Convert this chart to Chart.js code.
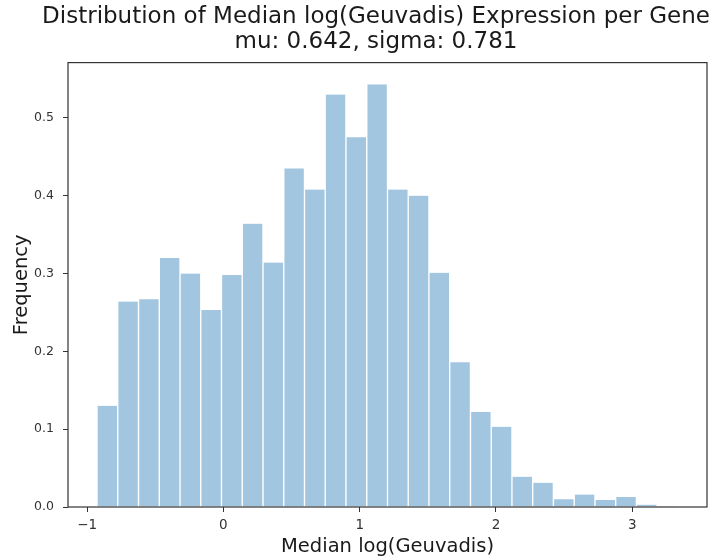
<!DOCTYPE html>
<html>
<head>
<meta charset="utf-8">
<script src="https://cdn.jsdelivr.net/npm/chart.js@4/dist/chart.umd.min.js"></script>
<style>
  html, body { margin: 0; padding: 0; background: #ffffff; }
  #wrap { width: 722px; height: 560px; }
</style>
</head>
<body>
<div id="wrap"><canvas id="c" width="722" height="560"></canvas></div>
<script>
// Histogram bin edges
const binEdges = [-0.927, -0.775, -0.623, -0.470, -0.318, -0.166, -0.014, 0.138, 0.291, 0.443,
                  0.595, 0.747, 0.899, 1.052, 1.204, 1.356, 1.508, 1.660, 1.813, 1.965,
                  2.117, 2.269, 2.421, 2.574, 2.726, 2.878, 3.030, 3.182, 3.335];
// Density (Frequency) per bin
const frequency = [0.130, 0.264, 0.267, 0.320, 0.300, 0.253, 0.298, 0.364, 0.314, 0.435,
                   0.408, 0.530, 0.475, 0.543, 0.408, 0.400, 0.301, 0.186, 0.122, 0.103,
                   0.039, 0.031, 0.010, 0.016, 0.009, 0.013, 0.003, 0.001];
const xTicks = [-1, 0, 1, 2, 3];
const yTicks = [0.0, 0.1, 0.2, 0.3, 0.4, 0.5];
const titleLines = ['Distribution of Median log(Geuvadis) Expression per Gene', 'mu: 0.642, sigma: 0.781'];
const xLabel = 'Median log(Geuvadis)';
const yLabel = 'Frequency';

const points = frequency.map((f, i) => ({ x: (binEdges[i] + binEdges[i + 1]) / 2, y: f }));

const frame = {
  id: 'frame',
  afterDatasetsDraw(chart) {
    const a = chart.chartArea, ctx = chart.ctx;
    ctx.save();
    ctx.strokeStyle = '#333333';
    ctx.lineWidth = 1.2;
    ctx.strokeRect(a.left, a.top, a.right - a.left, a.bottom - a.top);
    ctx.restore();
  }
};

const FONT = "'DejaVu Sans', sans-serif";

new Chart(document.getElementById('c'), {
  type: 'bar',
  data: {
    datasets: [{
      data: points,
      xAxisID: 'x',
      yAxisID: 'y',
      backgroundColor: '#a2c6e0',
      borderColor: '#ffffff',
      borderWidth: { left: 1, right: 1, top: 0, bottom: 0 },
      barPercentage: 1.0,
      categoryPercentage: 1.0
    }]
  },
  plugins: [frame],
  options: {
    responsive: false,
    animation: false,
    devicePixelRatio: 1,
    // left padding shifts the full-width title to sit centred over the plot
    layout: { padding: { left: 30, right: 0, top: 0, bottom: 0 } },
    plugins: {
      legend: { display: false },
      tooltip: { enabled: false },
      title: {
        display: true,
        fullSize: true,
        align: 'center',
        text: titleLines,
        color: '#1a1a1a',
        font: { family: FONT, size: 23, weight: 'normal', lineHeight: 1.1 },
        padding: { top: 4, bottom: 8 }
      }
    },
    scales: {
      x: {
        type: 'linear',
        min: -1.14,
        max: 3.548,
        offset: false,
        afterFit(s) { s.height = 53; },
        afterBuildTicks(s) { s.ticks = xTicks.map(v => ({ value: v })); },
        grid: { display: true, drawOnChartArea: false, drawTicks: true, tickLength: 5, tickColor: '#333333', offset: false },
        border: { display: false },
        ticks: {
          color: '#333333',
          font: { family: FONT, size: 13.5 },
          padding: 5,
          maxRotation: 0,
          callback: v => (v < 0 ? '\u2212' + Math.abs(v) : String(v))
        },
        title: {
          display: true,
          text: xLabel,
          color: '#1a1a1a',
          font: { family: FONT, size: 19.5, lineHeight: 1.2 },
          padding: { top: 0, bottom: 1 }
        }
      },
      y: {
        type: 'linear',
        position: 'left',
        min: 0,
        max: 0.571,
        afterFit(s) { s.width = 38; },
        afterBuildTicks(s) { s.ticks = yTicks.map(v => ({ value: v })); },
        grid: { display: true, drawOnChartArea: false, drawTicks: true, tickLength: 5, tickColor: '#333333' },
        border: { display: false },
        ticks: {
          color: '#333333',
          font: { family: FONT, size: 12.5 },
          padding: 9,
          callback: v => v.toFixed(1)
        },
        title: {
          display: true,
          text: yLabel,
          color: '#1a1a1a',
          font: { family: FONT, size: 19.5, lineHeight: 1.2 },
          padding: { top: -20, bottom: 0 }
        }
      },
      yRight: {
        type: 'linear',
        position: 'right',
        display: true,
        afterFit(s) { s.width = 15; },
        grid: { display: false, drawTicks: false },
        border: { display: false },
        ticks: { display: false }
      }
    }
  }
});
</script>
</body>
</html>
